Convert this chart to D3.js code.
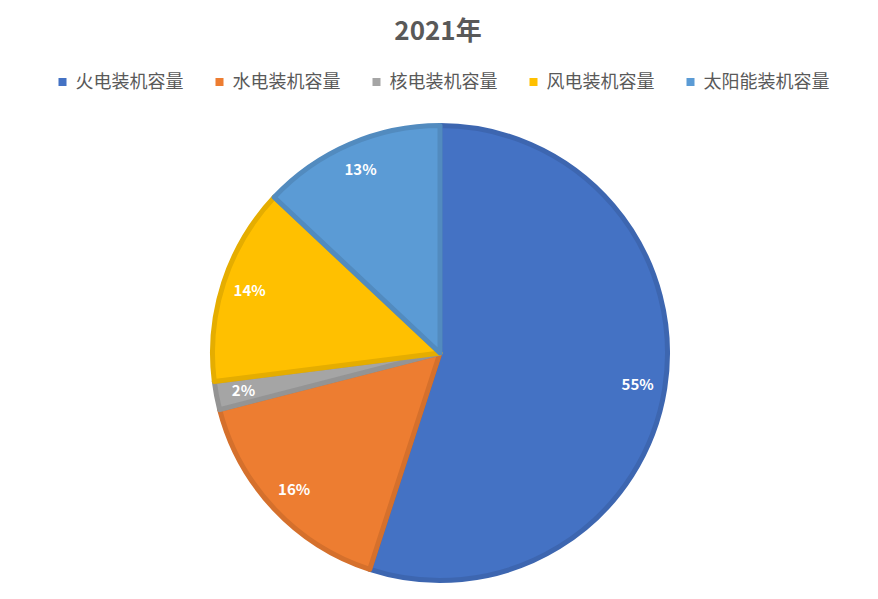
<!DOCTYPE html>
<html>
<head>
<meta charset="utf-8">
<script src="https://cdn.jsdelivr.net/npm/d3@7"></script>
<style>
  body { margin: 0; background: #fff; }
  text { font-family: "Noto Sans CJK SC", "Open Sans", sans-serif; }
</style>
</head>
<body>
<div id="pie"></div>
<script>
// data
var categories = ["火电装机容量", "水电装机容量", "核电装机容量", "风电装机容量", "太阳能装机容量"];
var shares = [55, 16, 2, 14, 13];
var colors = ["#4472C4", "#ED7D31", "#A5A5A5", "#FFC000", "#5B9BD5"];
var title = "2021年";

var width = 878, height = 599;
var cx = 440, cy = 353, radius = 230;

var data = categories.map(function(c, i) {
    return { name: c, value: shares[i], color: colors[i] };
});

var svg = d3.select("#pie")
    .append("svg")
        .attr("width", width)
        .attr("height", height);

// title
svg.append("text")
    .attr("x", 438)
    .attr("y", 40)
    .attr("text-anchor", "middle")
    .attr("font-size", "26px")
    .attr("font-weight", "bold")
    .attr("fill", "#595959")
    .text(title);

// legend, laid out left to right then centred
var legend = svg.append("g");
var xPos = 0;
data.forEach(function(d) {
    var item = legend.append("g").attr("transform", "translate(" + xPos + ",0)");
    item.append("rect")
        .attr("x", 0)
        .attr("y", -4)
        .attr("width", 8)
        .attr("height", 8)
        .attr("fill", d.color);
    var t = item.append("text")
        .attr("x", 17)
        .attr("y", 0)
        .attr("dy", "0.35em")
        .attr("font-size", "18px")
        .attr("fill", "#595959")
        .text(d.name);
    xPos += 17 + t.node().getComputedTextLength() + 32;
});
var legendWidth = xPos - 32;
legend.attr("transform", "translate(" + (444 - legendWidth / 2) + ",82)");

// pie
var pie = d3.pie()
    .sort(null)
    .value(function(d) { return d.value; });

var arcs = pie(data);
var arc = d3.arc().innerRadius(0).outerRadius(radius - 2.5);
var labelArc = d3.arc().innerRadius(radius * 0.87).outerRadius(radius * 0.87);

var g = svg.append("g")
    .attr("transform", "translate(" + cx + "," + cy + ")");

g.selectAll("path")
    .data(arcs)
    .enter()
    .append("path")
    .attr("d", arc)
    .attr("fill", function(d) { return d.data.color; })
    .attr("stroke", function(d) { return d3.color(d.data.color).darker(0.3); })
    .attr("stroke-width", 5)
    .attr("stroke-linejoin", "round");

g.selectAll("text.lbl")
    .data(arcs)
    .enter()
    .append("text")
    .attr("class", "lbl")
    .attr("transform", function(d) { return "translate(" + labelArc.centroid(d) + ")"; })
    .attr("text-anchor", "middle")
    .attr("dy", "0.35em")
    .attr("font-size", "15px")
    .attr("font-weight", "bold")
    .attr("fill", "#fff")
    .text(function(d) { return d.data.value + "%"; });
</script>
</body>
</html>
